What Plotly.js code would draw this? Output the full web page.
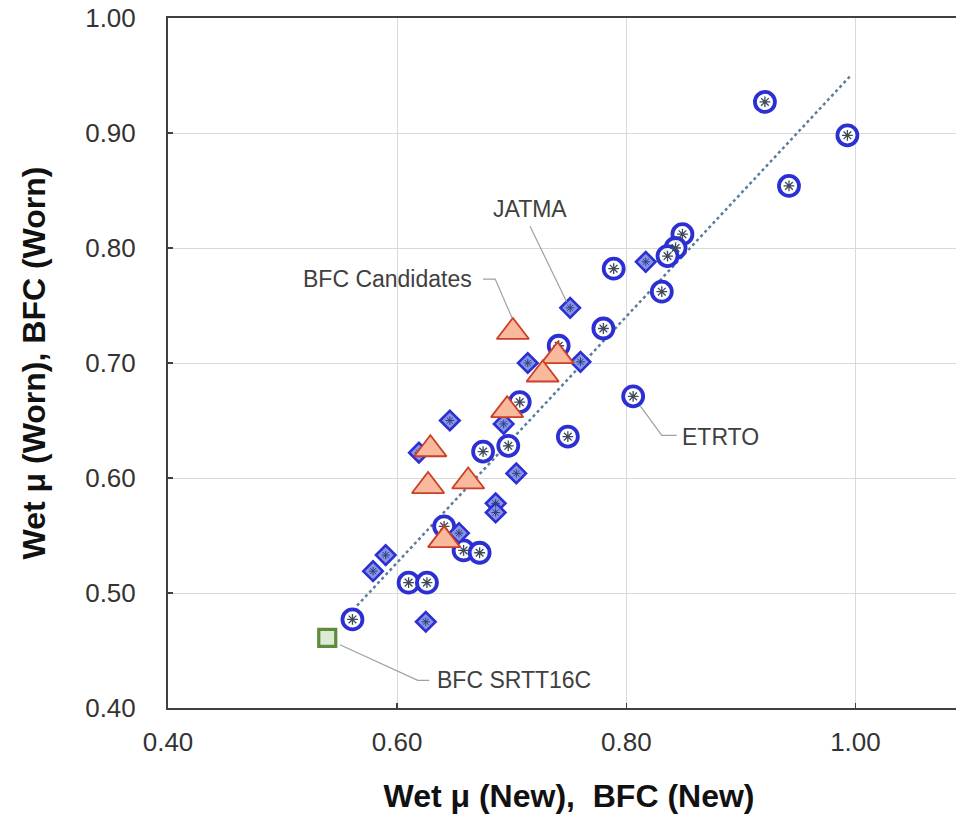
<!DOCTYPE html>
<html>
<head>
<meta charset="utf-8">
<script src="https://cdn.plot.ly/plotly-3.0.1.min.js"></script>
<style>
html,body{margin:0;padding:0;background:#fff;overflow:hidden;}
#chart{width:975px;height:823px;}
</style>
</head>
<body>
<div id="chart"></div>
<script>
// ETRTO (open circles)
const etrtoNew  = [0.921,0.993,0.942,0.849,0.843,0.836,0.789,0.831,0.780,0.806,0.741,0.707,0.749,0.675,0.697,0.641,0.658,0.672,0.610,0.626,0.561];
const etrtoWorn = [0.927,0.898,0.854,0.812,0.800,0.793,0.782,0.762,0.730,0.671,0.715,0.666,0.636,0.623,0.628,0.558,0.537,0.535,0.509,0.509,0.477];
// JATMA (diamonds)
const jatmaNew  = [0.817,0.760,0.751,0.714,0.646,0.693,0.704,0.619,0.686,0.686,0.654,0.590,0.579,0.625];
const jatmaWorn = [0.788,0.701,0.748,0.700,0.650,0.647,0.604,0.622,0.578,0.570,0.552,0.533,0.519,0.475];
// BFC Candidates (triangles)
const candNew   = [0.701,0.740,0.727,0.696,0.629,0.627,0.662,0.641];
const candWorn  = [0.727,0.706,0.690,0.659,0.625,0.593,0.597,0.546];
// BFC SRTT16C
const srttNew   = [0.539];
const srttWorn  = [0.461];
// Dotted trend line
const trendNew  = [0.565,0.995];
const trendWorn = [0.489,0.949];

const labels = ['BFC Candidates','JATMA','ETRTO','BFC SRTT16C'];
const xTitle = 'Wet μ (New),\u00a0 BFC (New)';
const yTitle = 'Wet μ (Worn), BFC (Worn)';

const blue = '#2c2fd2';
const astColor = '#3c4a5a';

const traces = [
  {x:trendNew, y:trendWorn, mode:'lines', line:{color:'#5a7d9c', width:2.5, dash:'dot'}, hoverinfo:'skip'},
  {x:etrtoNew, y:etrtoWorn, mode:'markers', name:labels[2],
   marker:{symbol:'circle', size:20, color:'rgba(255,255,255,0.92)', line:{color:blue, width:3.8}}},
  {x:etrtoNew, y:etrtoWorn, mode:'markers', hoverinfo:'skip',
   marker:{symbol:'asterisk-open', size:9, color:astColor, line:{color:astColor, width:1.3}}},
  {x:jatmaNew, y:jatmaWorn, mode:'markers', name:labels[1],
   marker:{symbol:'diamond', size:15, color:'#8795e4', line:{color:blue, width:2.6}}},
  {x:jatmaNew, y:jatmaWorn, mode:'markers', hoverinfo:'skip',
   marker:{symbol:'asterisk-open', size:7, color:'#2f3c80', line:{color:'#2f3c80', width:1}}},
  {x:candNew, y:candWorn, mode:'markers', name:labels[0],
   marker:{symbol:'triangle-up', size:28, color:'#f9b99c', line:{color:'#cc3f26', width:1.8}}},
  {x:srttNew, y:srttWorn, mode:'markers', name:labels[3],
   marker:{symbol:'square', size:17, color:'#dcebd3', line:{color:'#5e8c3c', width:3.2}}}
];

const txtFont = {family:'Liberation Sans, Arial, sans-serif', size:23, color:'#404040'};
const leader = {color:'#a0a0a0', width:1.2};

const layout = {
  width:975, height:823,
  margin:{l:168, r:5, t:18, b:115},
  paper_bgcolor:'#fff', plot_bgcolor:'#fff',
  showlegend:false,
  font:{family:'Liberation Sans, Arial, sans-serif', color:'#333'},
  xaxis:{
    range:[0.4,1.1], tick0:0.4, dtick:0.2, tickformat:'.2f',
    showgrid:true, gridcolor:'#d9d9d9', gridwidth:1,
    showline:true, linecolor:'#404040', linewidth:2, mirror:true,
    ticks:'inside', ticklen:5, tickcolor:'#404040', tickwidth:1.5,
    ticklabelstandoff:10,
    tickfont:{family:'Liberation Sans, Arial, sans-serif', size:26, color:'#333'},
    zeroline:false,
    title:{text:xTitle, standoff:28, font:{family:'Liberation Sans, Arial, sans-serif', size:32, color:'#111', weight:'bold'}}
  },
  yaxis:{
    range:[0.4,1.0], tick0:0.4, dtick:0.1, tickformat:'.2f',
    showgrid:true, gridcolor:'#d9d9d9', gridwidth:1,
    showline:true, linecolor:'#404040', linewidth:2, mirror:false,
    ticks:'inside', ticklen:5, tickcolor:'#404040', tickwidth:1.5,
    ticklabelstandoff:25,
    tickfont:{family:'Liberation Sans, Arial, sans-serif', size:26, color:'#333'},
    zeroline:false,
    title:{text:yTitle, standoff:30, font:{family:'Liberation Sans, Arial, sans-serif', size:32, color:'#111', weight:'bold'}}
  },
  annotations:[
    {x:0.667, y:0.773, xref:'x', yref:'y', text:labels[0], showarrow:false, xanchor:'right', yanchor:'middle', font:txtFont},
    {x:0.716, y:0.834, xref:'x', yref:'y', text:labels[1], showarrow:false, xanchor:'center', yanchor:'middle', font:txtFont},
    {x:0.847, y:0.636, xref:'x', yref:'y', text:labels[2], showarrow:false, xanchor:'left', yanchor:'middle', font:txtFont},
    {x:0.633, y:0.424, xref:'x', yref:'y', text:labels[3], showarrow:false, xanchor:'left', yanchor:'middle', font:txtFont}
  ],
  shapes:[
    {type:'path', xref:'x', yref:'y', path:'M0.675,0.773 L0.6856,0.773 L0.7004,0.739', line:leader},
    {type:'path', xref:'x', yref:'y', path:'M0.716,0.819 L0.748,0.753', line:leader},
    {type:'path', xref:'x', yref:'y', path:'M0.812,0.663 L0.831,0.637 L0.844,0.637', line:leader},
    {type:'path', xref:'x', yref:'y', path:'M0.550,0.455 L0.618,0.424 L0.628,0.424', line:leader}
  ]
};

Plotly.newPlot('chart', traces, layout, {displayModeBar:false, staticPlot:true});
</script>
</body>
</html>
